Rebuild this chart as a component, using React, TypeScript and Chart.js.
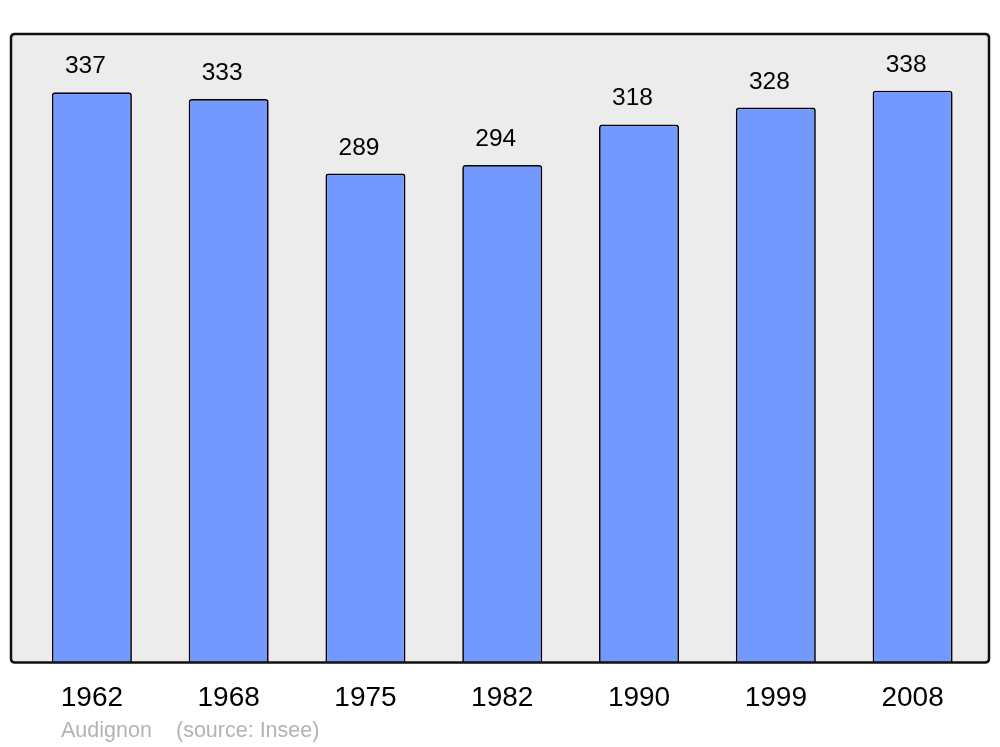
import React, { useEffect, useRef } from "react";
import { Chart, registerables } from "chart.js";

Chart.register(...registerables);

const years = ["1962", "1968", "1975", "1982", "1990", "1999", "2008"];
const population = [337, 333, 289, 294, 318, 328, 338];
const footerName = "Audignon";
const footerSource = "(source: Insee)";

const FONT = "'Liberation Sans', Arial, sans-serif";

function roundRect(ctx: CanvasRenderingContext2D, x: number, y: number, w: number, h: number, r: number) {
  ctx.beginPath();
  ctx.moveTo(x + r, y);
  ctx.lineTo(x + w - r, y);
  ctx.quadraticCurveTo(x + w, y, x + w, y + r);
  ctx.lineTo(x + w, y + h - r);
  ctx.quadraticCurveTo(x + w, y + h, x + w - r, y + h);
  ctx.lineTo(x + r, y + h);
  ctx.quadraticCurveTo(x, y + h, x, y + h - r);
  ctx.lineTo(x, y + r);
  ctx.quadraticCurveTo(x, y, x + r, y);
  ctx.closePath();
}

const frameBox = (chart: any) => {
  const a = chart.chartArea;
  return { x: a.left - 12.5, y: a.top, w: a.right - a.left + 12.5 + 8, h: a.bottom - a.top };
};

const framePlugin = {
  id: "frame",
  beforeDatasetsDraw(chart: any) {
    const ctx = chart.ctx;
    const b = frameBox(chart);
    ctx.save();
    roundRect(ctx, b.x, b.y, b.w, b.h, 4);
    ctx.fillStyle = "#ececec";
    ctx.fill();
    ctx.restore();
  },
  afterDatasetsDraw(chart: any) {
    const ctx = chart.ctx;
    const b = frameBox(chart);
    ctx.save();
    roundRect(ctx, b.x, b.y, b.w, b.h, 4);
    ctx.strokeStyle = "#111";
    ctx.lineWidth = 2.5;
    ctx.stroke();
    // value labels
    const meta = chart.getDatasetMeta(0);
    ctx.fillStyle = "#000";
    ctx.font = `24.5px ${FONT}`;
    ctx.textAlign = "center";
    ctx.textBaseline = "alphabetic";
    meta.data.forEach((el: any, i: number) => {
      ctx.fillText(String(population[i]), el.x - 6.5, el.y - 19);
    });
    // footer
    ctx.fillStyle = "#b3b3b3";
    ctx.font = `21.5px ${FONT}`;
    ctx.textAlign = "left";
    ctx.fillText(footerName, 61, 737);
    ctx.fillText(footerSource, 176, 737);
    ctx.restore();
  },
};

export default function App() {
  const ref = useRef<HTMLCanvasElement>(null);
  useEffect(() => {
    if (!ref.current) return;
    const chart = new Chart(ref.current, {
      type: "bar",
      data: {
        labels: years,
        datasets: [
          {
            data: population,
            backgroundColor: "#7399ff",
            borderColor: "#000",
            borderWidth: 1.7,
            borderRadius: { topLeft: 3, topRight: 3, bottomLeft: 0, bottomRight: 0 },
            borderSkipped: "bottom",
            barPercentage: 0.585,
            categoryPercentage: 1,
          },
        ],
      },
      options: {
        responsive: false,
        animation: false,
        layout: { padding: { left: 23.5, right: 19, top: 34, bottom: 21 } },
        plugins: { legend: { display: false }, tooltip: { enabled: false } },
        scales: {
          x: {
            grid: { display: false },
            border: { display: false },
            ticks: { color: "#000", font: { size: 28, family: FONT }, padding: 11, maxRotation: 0 },
          },
          y: { display: false, min: 0, max: 371.5 },
        },
      },
      plugins: [framePlugin],
    });
    return () => chart.destroy();
  }, []);
  return (
    <div style={{ position: "absolute", left: 0, top: 0, width: 1000, height: 747, background: "#fff" }}>
      <canvas ref={ref} width={1000} height={747} />
    </div>
  );
}
